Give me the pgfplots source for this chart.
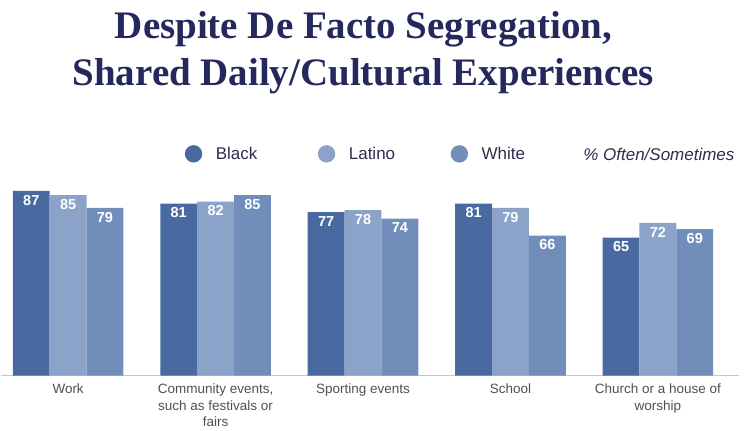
\documentclass[border=0pt]{standalone}
\usepackage{pgfplots}
\pgfplotsset{compat=1.18}
\usepackage{fontspec}
\setmainfont{Liberation Sans}
\newfontfamily\titlefont{Liberation Serif}
\definecolor{cBlack}{RGB}{72,106,160}
\definecolor{cLatino}{RGB}{139,162,201}
\definecolor{cWhite}{RGB}{113,142,187}
\definecolor{titlecol}{RGB}{37,40,92}
\definecolor{legcol}{RGB}{46,45,77}
\definecolor{tickcol}{RGB}{80,80,80}
\definecolor{axcol}{RGB}{190,200,215}
\begin{document}
\begin{tikzpicture}[x=1pt,y=1pt]
\begin{axis}[
  scale only axis, width=739pt, height=212.5pt,
  xmin=-0.457, xmax=4.55, ymin=0, ymax=100,
  axis y line=none,
  axis x line*=bottom,
  x axis line style={-, draw=axcol, line width=1.5pt},
  xtick={0,1,2,3,4},
  xticklabels={Work, {Community events,\\such as festivals or\\fairs}, Sporting events, School, {Church or a house of\\worship}},
  major tick length=0pt,
  xticklabel style={anchor=north, inner sep=0, yshift=-8pt, align=center, text=tickcol, font=\fontsize{13.5}{16.5}\selectfont},
  ybar=0pt, bar width=36.9pt,
  /pgf/number format/assume math mode=true,
  nodes near coords,
  nodes near coords align={below},
  every node near coord/.append style={anchor=north, inner sep=0, yshift=-4pt, text=white, font=\bfseries\fontsize{14.5}{14.5}\selectfont},
  legend columns=3,
  legend image code/.code={\fill[#1] (8.7pt,0pt) circle [radius=8.7pt];},
  legend style={at={(0.2494,1.0447)}, anchor=west, draw=none, fill=none, inner sep=0pt, outer sep=0pt,
    font=\fontsize{17}{17}\selectfont, text=legcol,
    /tikz/column 1/.style={column sep=11.6pt},
    /tikz/column 2/.style={column sep=58.6pt},
    /tikz/column 3/.style={column sep=11.6pt},
    /tikz/column 4/.style={column sep=53.6pt},
    /tikz/column 5/.style={column sep=11.6pt}},
]
\addplot[fill=cBlack, draw=none] coordinates {(0,87) (1,81) (2,77) (3,81) (4,65)};
\addplot[fill=cLatino, draw=none] coordinates {(0,85) (1,82) (2,78) (3,79) (4,72)};
\addplot[fill=cWhite, draw=none] coordinates {(0,79) (1,85) (2,74) (3,66) (4,69)};
\legend{Black, Latino, White}
\coordinate (O) at (rel axis cs:0,0);
\end{axis}
\begin{scope}[shift={(O)}]
\node[anchor=base, inner sep=0, text=titlecol, font=\titlefont\bfseries\fontsize{39}{39}\selectfont] at (363,337) {Despite De Facto Segregation,};
\node[anchor=base, inner sep=0, text=titlecol, font=\titlefont\bfseries\fontsize{39}{39}\selectfont] at (363,290) {Shared Daily/Cultural Experiences};
\node[anchor=base west, inner sep=0, text=legcol, font=\itshape\fontsize{17}{17}\selectfont] at (583,215.3) {\% Often/Sometimes};
\useasboundingbox (0,-55) rectangle (750,376);
\end{scope}
\end{tikzpicture}
\end{document}
